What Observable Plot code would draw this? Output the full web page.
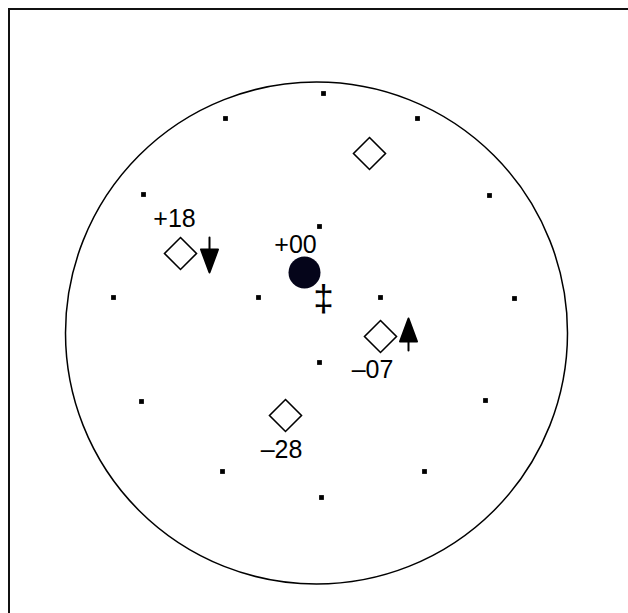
<!DOCTYPE html>
<html>
<head>
<meta charset="utf-8">
<script src="https://cdn.jsdelivr.net/npm/d3@7"></script>
<script src="https://cdn.jsdelivr.net/npm/@observablehq/plot@0.6"></script>
<style>
  html, body { margin: 0; padding: 0; background: white; overflow: hidden; }
  #chart svg { display: block; }
</style>
</head>
<body>
<div id="chart"></div>
<script>
// Chart coordinates (arbitrary units, origin top-left, y downward)
const ringCenter = [{x: 316, y: 332.5}];
const gridX = [323, 225, 417, 143, 489, 319, 113, 258, 380, 514, 319, 141, 485, 222, 424, 321];
const gridY = [ 93, 118, 118, 194, 195, 226, 297, 297, 297, 298, 362, 401, 400, 471, 471, 497];
const diamondX = [369, 180, 380, 285];
const diamondY = [153, 253, 336, 415];
const labelText = ["+18", "+00", "\u201307", "\u201328"];
const labelX = [174, 295, 372, 281];
const labelY = [226, 252, 377, 457];
const arrowX = [209, 408];
const arrowY = [237, 350];
const arrowLen = [35, 32];
const arrowDir = [180, 0];
const bigDot = [{x: 304, y: 272}];
const crossMark = [{x: 323, y: 299, t: "\u2021"}];

const grid = gridX.map((x, i) => ({x, y: gridY[i]}));
const diamonds = diamondX.map((x, i) => ({x, y: diamondY[i]}));
const labels = labelText.map((t, i) => ({t, x: labelX[i], y: labelY[i]}));
const arrows = arrowX.map((x, i) => ({x, y: arrowY[i], len: arrowLen[i], rot: arrowDir[i]}));

const arrowShape = {
  draw(context, l) {
    const head = 23, wing = 8.5;
    context.moveTo(0, 0);
    context.lineTo(0, -l + head);
    context.moveTo(0, -l);
    context.lineTo(wing, -l + head);
    context.lineTo(-wing, -l + head);
    context.closePath();
  }
};

const chart = Plot.plot({
  width: 628,
  height: 613,
  margin: 0,
  x: {domain: [0, 628], axis: null},
  y: {domain: [613, 0], axis: null},
  length: {type: "identity"},
  style: {fontFamily: "'Liberation Sans', Arial, sans-serif", background: "white"},
  marks: [
    Plot.frame({insetLeft: 8.5, insetTop: 8.5, insetRight: -20, insetBottom: -20, stroke: "#111", strokeWidth: 2}),
    Plot.dot(ringCenter, {x: "x", y: "y", r: 251, stroke: "black", strokeWidth: 1.5, fill: "none"}),
    Plot.dot(grid, {x: "x", y: "y", symbol: "square", r: 2.7, fill: "black", stroke: "none"}),
    Plot.dot(diamonds, {x: "x", y: "y", symbol: "diamond2", r: 14.4, fill: "white", stroke: "black", strokeWidth: 1.6}),
    Plot.dot(bigDot, {x: "x", y: "y", r: 16, fill: "#05051a", stroke: "none"}),
    Plot.text(crossMark, {x: "x", y: "y", text: "t", fontSize: 37, fill: "black", lineAnchor: "middle", textAnchor: "middle"}),
    Plot.vector(arrows, {x: "x", y: "y", length: "len", rotate: "rot", anchor: "start", shape: arrowShape, stroke: "black", strokeWidth: 2, fill: "black"}),
    Plot.text(labels, {x: "x", y: "y", text: "t", fontSize: 25, fill: "black", lineAnchor: "bottom", textAnchor: "middle"})
  ]
});
document.getElementById("chart").append(chart);
</script>
</body>
</html>
